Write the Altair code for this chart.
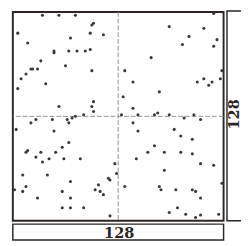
import altair as alt
import pandas as pd

# point coordinates on a 128 x 128 grid
xs = [18, 28, 38, 49, 48, 3, 47, 55, 35, 9, 25, 25, 34, 39, 44, 47, 17, 32, 11, 12,
      15, 48, 8, 5, 20, 3, 28, 49, 48, 49, 36, 38, 43, 11, 14, 24, 33, 34,
      122, 95, 116, 107, 124, 103, 122, 84, 68, 73, 67, 89, 73, 112, 116, 119, 121,
      126, 127, 66, 76, 86, 88, 95, 110, 104, 114, 73,
      2, 25, 34, 30, 8, 9, 17, 14, 26, 18, 22, 31, 41, 62, 6, 21, 35, 63, 58, 59,
      1, 8, 6, 30, 52, 50, 53, 55, 15, 35, 30, 35, 43, 59,
      76, 98, 102, 109, 86, 82, 92, 102, 109, 75, 114, 122, 92, 127, 68, 89, 90,
      99, 109, 111, 114, 100, 95, 105, 111, 114, 125]
ys = [126, 126, 126, 121, 120, 115, 115, 114, 112, 109, 104, 103, 104, 104, 104, 105, 98, 95, 93, 93,
      93, 92, 90, 87, 84, 81, 70, 73, 70, 67, 63, 64, 65, 60, 62, 62, 62, 60,
      127, 119, 118, 113, 111, 108, 107, 100, 92, 85, 76, 79, 69, 85, 87, 83, 85,
      87, 92, 65, 65, 65, 66, 65, 65, 63, 62, 60,
      56, 55, 48, 45, 42, 43, 42, 39, 42, 36, 38, 38, 38, 35, 28, 28, 24, 29, 26, 25,
      19, 21, 18, 18, 22, 19, 18, 16, 14, 14, 8, 8, 8, 3,
      55, 56, 52, 50, 46, 42, 42, 42, 41, 38, 35, 34, 31, 23, 21, 21, 19,
      19, 19, 18, 14, 8, 5, 4, 2, 3.5, 4]

size_label = "128"
center = [64]

pts = pd.DataFrame({"x": xs, "y": ys})

W, H = 218, 216
dark = "#2b2623"

xsc = alt.Scale(domain=[0, 128], nice=False, zero=False)
ysc = alt.Scale(domain=[0, 128], nice=False, zero=False)

points = alt.Chart(pts).mark_circle(size=10, color="#383838", opacity=1).encode(
    x=alt.X("x:Q", scale=xsc, axis=None),
    y=alt.Y("y:Q", scale=ysc, axis=None),
)

cross_df = pd.DataFrame({"c": center})
vline = alt.Chart(cross_df).mark_rule(color="#8f8f8f", strokeWidth=1, strokeDash=[5, 2]).encode(
    x=alt.X("c:Q", scale=xsc, axis=None)
)
hline = alt.Chart(cross_df).mark_rule(color="#8f8f8f", strokeWidth=1, strokeDash=[5, 2]).encode(
    y=alt.Y("c:Q", scale=ysc, axis=None)
)

lab_df = pd.DataFrame({"t": [size_label]})
bottom_box = alt.Chart(lab_df).mark_rect(
    fill="white", stroke=dark, strokeWidth=1.5, clip=False
).encode(x=alt.value(0), x2=alt.value(218), y=alt.value(219.5), y2=alt.value(236))
right_box = alt.Chart(lab_df).mark_rect(
    fill="white", stroke=dark, strokeWidth=1.5, clip=False
).encode(x=alt.value(221.5), x2=alt.value(238), y=alt.value(-1), y2=alt.value(216))

bottom_text = alt.Chart(lab_df).mark_text(
    font="DejaVu Serif", fontWeight="bold", fontSize=15, color=dark,
    align="center", baseline="middle", clip=False
).encode(text="t:N", x=alt.value(110), y=alt.value(228.5))
right_text = alt.Chart(lab_df).mark_text(
    font="DejaVu Serif", fontWeight="bold", fontSize=15, color=dark,
    align="center", baseline="middle", angle=270, clip=False
).encode(text="t:N", x=alt.value(229), y=alt.value(106))

chart = alt.layer(
    bottom_box, right_box, vline, hline, points, bottom_text, right_text
).properties(
    width=W, height=H,
    padding={"left": 5, "top": 0, "right": 18, "bottom": 20},
    autosize=alt.AutoSizeParams(type="none"),
).configure_view(stroke=dark, strokeWidth=2)

chart.save("out.html", embed_options={"renderer": "svg", "actions": False})
